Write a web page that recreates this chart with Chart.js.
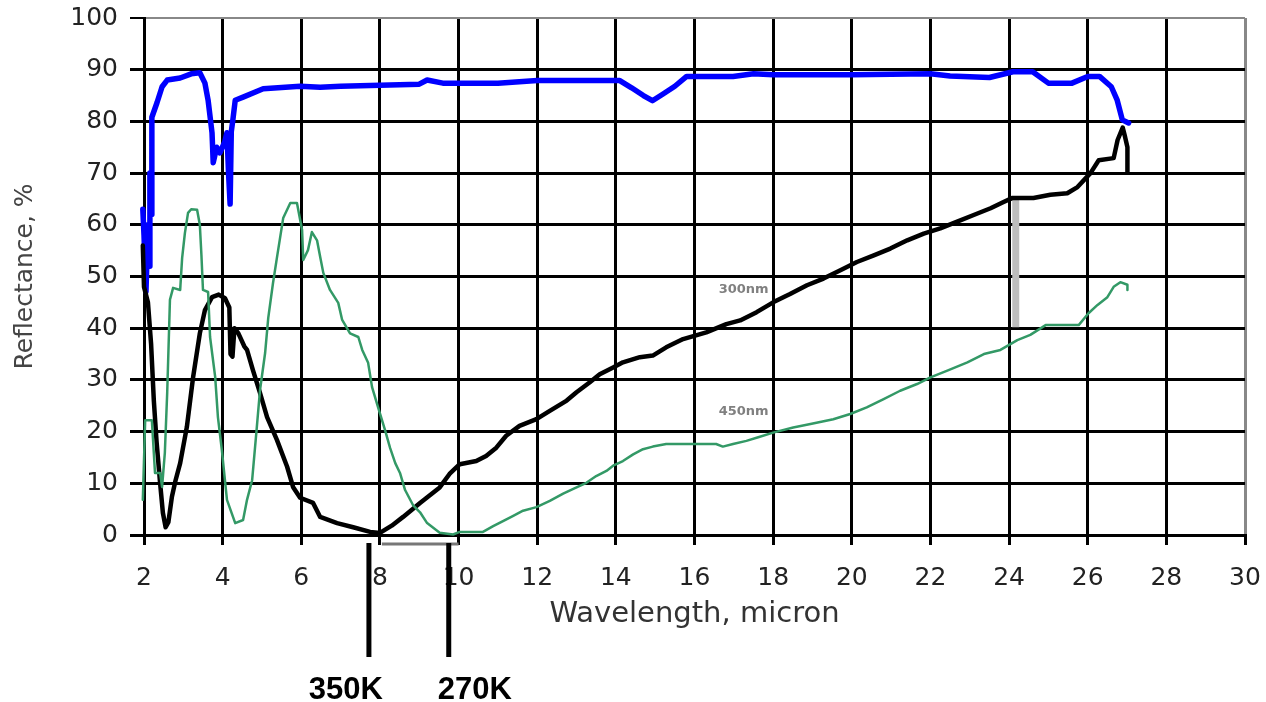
<!DOCTYPE html>
<html>
<head>
<meta charset="utf-8">
<title>Reflectance vs wavelength</title>
<script src="https://cdn.jsdelivr.net/npm/chart.js@4/dist/chart.umd.min.js"></script>
<style>
  html, body { margin: 0; padding: 0; background: #fff; }
</style>
</head>
<body>
<canvas id="reflChart" width="1266" height="702"></canvas>
<script>
// axis ticks
const xTickValues = [2, 4, 6, 8, 10, 12, 14, 16, 18, 20, 22, 24, 26, 28, 30];
const yTickValues = [0, 10, 20, 30, 40, 50, 60, 70, 80, 90, 100];

// blue curve (top)
const blueX = [1.87, 1.88, 1.89, 1.9, 1.91, 1.92, 1.93, 1.95, 1.97, 2.0, 2.05, 2.1, 2.13, 2.15, 2.18, 2.2, 2.33, 2.46, 2.59, 2.92,
  3.2, 3.42, 3.55, 3.63, 3.73, 3.76, 3.85, 3.93, 4.05, 4.11, 4.15, 4.19, 4.22, 4.26, 4.32, 4.52, 5.03, 5.97, 6.48, 7.0,
  8.0, 9.0, 9.2, 9.6, 11.0, 12.0, 14.1, 14.4, 14.7, 14.93, 15.2, 15.5, 15.8, 16.98, 17.5, 18.0, 20.0, 22.0, 22.5, 23.5,
  24.1, 24.6, 25.0, 25.6, 26.0, 26.3, 26.6, 26.75, 26.88, 27.04];
const blueY = [85, 70, 80, 62, 75, 55, 68, 48, 63, 58, 47, 60, 52, 70, 62, 80.8, 83.6, 86.7, 88, 88.4,
  89.2, 89.4, 87.4, 84.1, 77.8, 72, 75, 73.9, 76, 77.8, 70, 64, 78, 80.3, 84.1, 84.7, 86.3, 86.8, 86.6, 86.8,
  87, 87.2, 88, 87.4, 87.4, 87.9, 87.9, 86.5, 85, 84, 85.3, 86.8, 88.7, 88.7, 89.2, 89, 89, 89.2, 88.8, 88.5,
  89.6, 89.6, 87.4, 87.4, 88.7, 88.7, 86.7, 84.1, 80.3, 79.7];

// black curve (300nm)
const blackX = [1.92, 1.97, 2.0, 2.1, 2.18, 2.25, 2.32, 2.41, 2.48, 2.55, 2.62, 2.71, 2.8, 2.92, 3.09, 3.25, 3.42, 3.55, 3.73, 3.9,
  4.06, 4.17, 4.2, 4.25, 4.3, 4.4, 4.55, 4.62, 4.77, 4.95, 5.13, 5.38, 5.64, 5.79, 5.97, 6.3, 6.48, 6.91, 7.32, 7.75,
  8.0, 8.3, 8.59, 9.02, 9.52, 9.77, 10.03, 10.45, 10.7, 10.96, 11.21, 11.55, 11.98, 12.32, 12.75, 13.0, 13.33, 13.59, 13.93, 14.18,
  14.61, 14.94, 15.28, 15.71, 16.3, 16.81, 17.16, 17.58, 18.0, 18.43, 18.86, 19.28, 19.71, 20.13, 20.56, 20.98, 21.41, 21.83, 22.25, 22.68,
  23.1, 23.53, 23.86, 24.09, 24.62, 25.05, 25.48, 25.74, 26.07, 26.28, 26.66, 26.76, 26.89, 26.95, 27.01, 27.01];
const blackY = [58, 56, 48, 45, 37, 26, 18, 10, 4.3, 1.5, 2.5, 7.4, 10.5, 13.9, 20.9, 30.6, 39, 43.5, 46, 46.5,
  45.8, 44, 35, 34.5, 40, 39, 36.5, 35.8, 31.9, 27.5, 22.8, 18.4, 13.2, 9.3, 7.2, 6.2, 3.5, 2.3, 1.5, 0.6,
  0.4, 1.8, 3.5, 6.2, 9.2, 11.8, 13.7, 14.3, 15.3, 16.9, 19.2, 21.1, 22.4, 24.0, 26.0, 27.6, 29.5, 31.1, 32.4, 33.4,
  34.4, 34.7, 36.3, 37.9, 39.2, 40.8, 41.5, 43.1, 45.0, 46.6, 48.3, 49.6, 51.2, 52.8, 54.1, 55.4, 57.0, 58.3, 59.3, 60.6,
  61.9, 63.2, 64.4, 65.2, 65.2, 65.8, 66.1, 67.3, 70, 72.5, 72.9, 76.4, 78.8, 77, 75, 70.2];

// green curve (450nm)
const greenX = [1.9, 1.9, 1.97, 2.03, 2.2, 2.28, 2.41, 2.46, 2.53, 2.59, 2.66, 2.74, 2.92, 2.97, 3.04, 3.12, 3.2, 3.35, 3.42, 3.46,
  3.5, 3.63, 3.68, 3.81, 3.88, 3.98, 4.11, 4.32, 4.52, 4.62, 4.75, 4.87, 4.95, 5.08, 5.16, 5.28, 5.38, 5.54, 5.72, 5.89,
  6.02, 6.05, 6.17, 6.27, 6.4, 6.48, 6.56, 6.73, 6.94, 7.04, 7.24, 7.45, 7.55, 7.7, 7.8, 7.95, 8.13, 8.26, 8.39, 8.51,
  8.64, 8.84, 9.02, 9.2, 9.52, 9.86, 10.03, 10.62, 10.88, 11.13, 11.39, 11.64, 11.98, 12.32, 12.66, 13.0, 13.25, 13.5, 13.76, 13.93,
  14.18, 14.44, 14.69, 14.94, 15.28, 15.96, 16.55, 16.72, 16.98, 17.32, 17.62, 18.0, 18.51, 18.98, 19.53, 19.96, 20.38, 20.81, 21.23, 21.66,
  22.0, 22.43, 22.94, 23.36, 23.78, 24.21, 24.54, 24.93, 25.77, 26.02, 26.25, 26.5, 26.66, 26.83, 27.01, 27.01];
const greenY = [2.3, 6.8, 6.8, 22.2, 22.2, 12, 12, 9.3, 15.9, 27.5, 45.5, 47.8, 47.4, 53.6, 58.4, 62.3, 63, 62.9, 60, 54.2,
  47.4, 47, 38.3, 30.6, 22.8, 16.4, 6.8, 2.3, 2.9, 6.8, 10.6, 20.9, 28, 35.2, 42, 48.7, 53.6, 61.3, 64.2, 64.2,
  59, 53.2, 55.1, 58.6, 57, 53.8, 50.7, 47.4, 44.9, 41.6, 39, 38.3, 35.8, 33.3, 28.6, 24.8, 20.3, 16.8, 13.9, 12,
  8.7, 5.8, 4.4, 2.3, 0.45, 0.1, 0.6, 0.6, 1.7, 2.7, 3.7, 4.7, 5.4, 6.6, 8.0, 9.2, 10.1, 11.4, 12.4, 13.4,
  14.3, 15.6, 16.6, 17.1, 17.6, 17.6, 17.6, 17.1, 17.6, 18.2, 18.9, 19.8, 20.8, 21.5, 22.4, 23.4, 24.7, 26.3, 27.9, 29.2,
  30.5, 31.8, 33.4, 35.0, 35.8, 37.7, 38.7, 40.6, 40.6, 42.9, 44.5, 46, 48, 48.9, 48.4, 47.4];

// annotations
const markerLabels = ['350K', '270K'];
const markerWavelengths = [7.72, 9.75];
const minimaSpan = [8.05, 10.0];
const noteLabels = ['300nm', '450nm'];
const noteX = [17.25, 17.25];
const noteY = [47.4, 23.8];
const stepWavelength = 24.17;
const stepRange = [40.2, 65.5];

const pts = (xs, ys) => xs.map((x, i) => ({ x: x, y: ys[i] }));

const annotations = {
  id: 'annotations',
  beforeDatasetsDraw(chart) {
    const { ctx, scales: { x, y } } = chart;
    ctx.save();
    ctx.strokeStyle = '#bdbdbd';
    ctx.lineWidth = 7;
    ctx.beginPath();
    ctx.moveTo(x.getPixelForValue(stepWavelength), y.getPixelForValue(stepRange[0]));
    ctx.lineTo(x.getPixelForValue(stepWavelength), y.getPixelForValue(stepRange[1]));
    ctx.stroke();
    ctx.restore();
  },
  afterDraw(chart) {
    const { ctx, chartArea, scales: { x, y } } = chart;
    ctx.save();
    // gray bracket between the two minima
    ctx.strokeStyle = '#777';
    ctx.lineWidth = 3;
    ctx.beginPath();
    ctx.moveTo(x.getPixelForValue(minimaSpan[0]), chartArea.bottom + 9);
    ctx.lineTo(x.getPixelForValue(minimaSpan[1]), chartArea.bottom + 9);
    ctx.stroke();

    // temperature markers
    const labelShift = [-23, 26];
    ctx.strokeStyle = '#000';
    ctx.lineWidth = 5;
    ctx.fillStyle = '#000';
    ctx.font = 'bold 31px "Liberation Sans", Arial, sans-serif';
    ctx.textAlign = 'center';
    ctx.textBaseline = 'alphabetic';
    markerLabels.forEach((txt, i) => {
      const px = x.getPixelForValue(markerWavelengths[i]);
      ctx.beginPath();
      ctx.moveTo(px, chartArea.bottom + 8);
      ctx.lineTo(px, chartArea.bottom + 122);
      ctx.stroke();
      ctx.fillText(txt, px + labelShift[i], 699);
    });

    // small curve notes
    ctx.fillStyle = '#808080';
    ctx.font = 'bold 13px "DejaVu Sans", sans-serif';
    ctx.textBaseline = 'middle';
    noteLabels.forEach((txt, i) => {
      ctx.fillText(txt, x.getPixelForValue(noteX[i]), y.getPixelForValue(noteY[i]));
    });
    ctx.restore();
  }
};

const ctx = document.getElementById('reflChart').getContext('2d');
new Chart(ctx, {
  type: 'line',
  data: {
    datasets: [
      { label: 'Substrate', data: pts(blueX, blueY), borderColor: '#0000ff', borderWidth: 5.5, order: 3 },
      { label: '300nm', data: pts(blackX, blackY), borderColor: '#000000', borderWidth: 4.5, order: 2 },
      { label: '450nm', data: pts(greenX, greenY), borderColor: '#339966', borderWidth: 2.5, order: 1 }
    ]
  },
  options: {
    responsive: false,
    animation: false,
    devicePixelRatio: 1,
    layout: { padding: { left: 0, right: 21, top: 18, bottom: 70 } },
    datasets: { line: { clip: false, pointRadius: 0, tension: 0, borderJoinStyle: 'round', borderCapStyle: 'round' } },
    plugins: { legend: { display: false }, tooltip: { enabled: false } },
    scales: {
      x: {
        type: 'linear',
        min: 2,
        max: 30,
        afterBuildTicks: s => { s.ticks = xTickValues.map(v => ({ value: v })); },
        afterFit: s => { s.height = 97; s.paddingLeft = 0; s.paddingRight = 0; },
        grid: {
          color: c => (c.tick && c.tick.value === 30 ? '#888' : '#000'),
          lineWidth: 3,
          tickLength: 10,
          tickColor: '#000'
        },
        border: { color: '#000', width: 3 },
        ticks: {
          color: '#222',
          font: { family: 'DejaVu Sans', size: 25 },
          padding: 18,
          maxRotation: 0,
          autoSkip: false
        },
        title: {
          display: true,
          text: 'Wavelength, micron',
          color: '#333',
          font: { family: 'DejaVu Sans', size: 29 },
          padding: { top: 0, bottom: 0 }
        }
      },
      y: {
        type: 'linear',
        min: 0,
        max: 100,
        afterBuildTicks: s => { s.ticks = yTickValues.map(v => ({ value: v })); },
        afterFit: s => { s.width = 144; s.paddingTop = 0; s.paddingBottom = 0; },
        grid: {
          color: c => (c.tick && c.tick.value === 100 ? '#888' : '#000'),
          lineWidth: c => (c.tick && c.tick.value === 100 ? 2 : 3),
          tickLength: 14,
          tickColor: '#000'
        },
        border: { color: '#000', width: 3 },
        ticks: {
          color: '#222',
          font: { family: 'DejaVu Sans', size: 25 },
          padding: 12
        },
        title: {
          display: true,
          text: 'Reflectance, %',
          color: '#444',
          font: { family: 'DejaVu Sans', size: 25 },
          padding: { top: 10, bottom: 0 }
        }
      }
    }
  },
  plugins: [annotations]
});
</script>
</body>
</html>
